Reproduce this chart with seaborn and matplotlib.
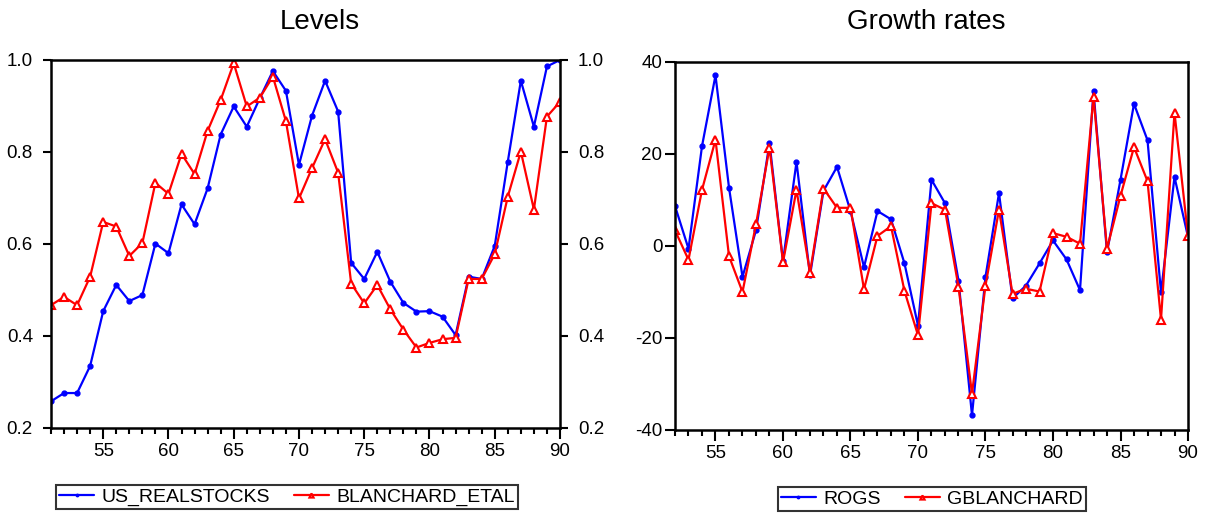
import pandas as pd
import matplotlib
matplotlib.use("Agg")
import matplotlib.pyplot as plt
from matplotlib.ticker import MultipleLocator
import seaborn as sns

# Levels panel data (years 51..90)
years_lvl = list(range(51, 91))
us_realstocks = [0.258, 0.276, 0.276, 0.335, 0.454, 0.511, 0.476, 0.489, 0.601, 0.580,
                 0.686, 0.643, 0.721, 0.838, 0.899, 0.855, 0.917, 0.976, 0.933, 0.772,
                 0.879, 0.955, 0.888, 0.559, 0.524, 0.583, 0.518, 0.472, 0.453, 0.454,
                 0.442, 0.402, 0.529, 0.524, 0.596, 0.779, 0.955, 0.855, 0.986, 1.000]
blanchard_etal = [0.467, 0.485, 0.467, 0.529, 0.648, 0.638, 0.574, 0.602, 0.733, 0.709,
                  0.796, 0.752, 0.846, 0.913, 0.993, 0.899, 0.918, 0.964, 0.867, 0.699,
                  0.765, 0.828, 0.755, 0.514, 0.471, 0.511, 0.458, 0.414, 0.375, 0.385,
                  0.393, 0.396, 0.524, 0.524, 0.578, 0.703, 0.801, 0.675, 0.877, 0.909]

# Growth rates panel data (years 52..90)
years_gr = list(range(52, 91))
rogs = [8.7, -0.6, 21.7, 37.1, 12.7, -6.7, 3.4, 22.4, -3.3, 18.3,
        -6.4, 12.0, 17.2, 7.6, -4.6, 7.6, 5.8, -3.8, -17.3, 14.4,
        9.3, -7.5, -36.8, -6.7, 11.5, -11.4, -8.6, -3.8, 1.2, -2.9,
        -9.6, 33.7, -1.4, 14.4, 30.9, 23.0, -10.1, 15.0, 2.0]
gblanchard = [3.4, -3.0, 12.2, 23.1, -2.2, -10.0, 4.7, 21.4, -3.5, 12.2,
              -5.8, 12.5, 8.3, 8.3, -9.4, 2.2, 4.3, -9.8, -19.4, 9.3,
              7.9, -8.9, -32.1, -8.6, 7.9, -10.4, -9.3, -9.9, 2.8, 2.0,
              0.5, 32.4, -0.6, 10.9, 21.5, 14.1, -16.0, 29.0, 2.2]

lvl = pd.DataFrame({"year": years_lvl, "US_REALSTOCKS": us_realstocks,
                    "BLANCHARD_ETAL": blanchard_etal})
gr = pd.DataFrame({"year": years_gr, "ROGS": rogs, "GBLANCHARD": gblanchard})

sns.set_style("white")
plt.rcParams["font.family"] = ["Liberation Sans", "DejaVu Sans"]
plt.rcParams["axes.unicode_minus"] = False
plt.rcParams["text.color"] = "black"
plt.rcParams["xtick.color"] = "black"
plt.rcParams["ytick.color"] = "black"
plt.rcParams["xtick.labelcolor"] = "black"
plt.rcParams["ytick.labelcolor"] = "black"

fig = plt.figure(figsize=(12.06, 5.14), dpi=100)
ax1 = fig.add_axes([51 / 1206, 1 - 428 / 514, 509 / 1206, 368 / 514])
ax2 = fig.add_axes([675 / 1206, 1 - 430 / 514, 513 / 1206, 368 / 514])

blue_kw = dict(color="blue", marker="o", markersize=3.5, markerfacecolor="blue",
               markeredgecolor="blue", markeredgewidth=1, linewidth=1.6)
red_kw = dict(color="red", marker="^", markersize=6, markerfacecolor="white",
              markeredgecolor="red", markeredgewidth=1.5, linewidth=1.6)

sns.lineplot(data=lvl, x="year", y="US_REALSTOCKS", label="US_REALSTOCKS", ax=ax1, **blue_kw)
sns.lineplot(data=lvl, x="year", y="BLANCHARD_ETAL", label="BLANCHARD_ETAL", ax=ax1, **red_kw)
sns.lineplot(data=gr, x="year", y="ROGS", label="ROGS", ax=ax2, **blue_kw)
sns.lineplot(data=gr, x="year", y="GBLANCHARD", label="GBLANCHARD", ax=ax2, **red_kw)

# Levels axes
ax1.set_xlim(51, 90)
ax1.set_ylim(0.2, 1.0)
ax1.set_yticks([0.2, 0.4, 0.6, 0.8, 1.0])
ax1.set_yticklabels(["0.2", "0.4", "0.6", "0.8", "1.0"])
ax1.tick_params(axis="y", which="major", left=True, right=True, labelright=True,
                direction="out", length=6, width=1.5, labelsize=13.5, pad=7)

# Growth axes
ax2.set_xlim(52, 90)
ax2.set_ylim(-40, 40)
ax2.set_yticks([-40, -20, 0, 20, 40])
ax2.tick_params(axis="y", which="major", left=True, direction="out", length=7,
                width=1.5, labelsize=13.5, pad=2)

for ax in (ax1, ax2):
    ax.set_xticks([55, 60, 65, 70, 75, 80, 85, 90])
    ax.xaxis.set_minor_locator(MultipleLocator(1))
    ax.tick_params(axis="x", which="major", bottom=True, direction="out", length=8,
                   width=1.5, labelsize=13.5, pad=3)
    ax.tick_params(axis="x", which="minor", bottom=True, direction="out", length=4.5,
                   width=1.5)
    ax.set_xlabel("")
    ax.set_ylabel("")
    for sp in ax.spines.values():
        sp.set_visible(True)
        sp.set_color("black")
        sp.set_linewidth(1.8)

fig.text(320 / 1206, 1 - 22 / 514, "Levels", ha="center", va="center", fontsize=20,
         color="black")
fig.text(926 / 1206, 1 - 22 / 514, "Growth rates", ha="center", va="center", fontsize=20,
         color="black")

for ax, cx, cy in ((ax1, 287, 497), (ax2, 932, 499)):
    leg = ax.legend(loc="center", bbox_to_anchor=(cx / 1206, 1 - cy / 514),
                    bbox_transform=fig.transFigure, ncol=2, fontsize=14,
                    frameon=True, fancybox=False, borderpad=0.15, handlelength=1.8,
                    handletextpad=0.4, columnspacing=1.2, borderaxespad=0,
                    markerscale=0.5)
    leg.get_frame().set_edgecolor("black")
    leg.get_frame().set_linewidth(1.5)
    for t in leg.get_texts():
        t.set_color("black")

fig.savefig("out.png", dpi=100)
